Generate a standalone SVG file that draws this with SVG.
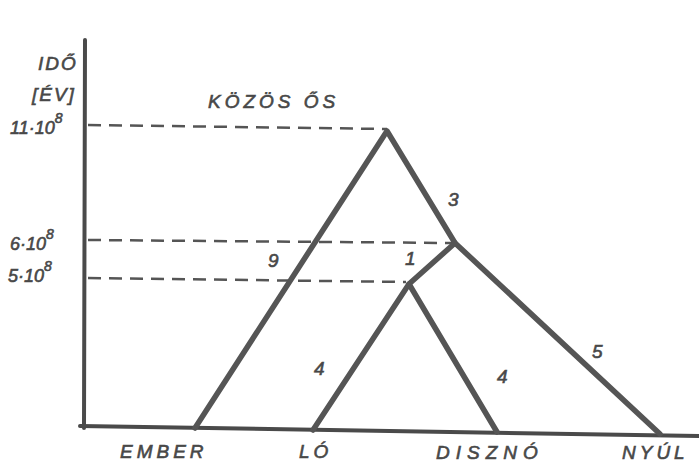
<svg xmlns="http://www.w3.org/2000/svg" width="699" height="467" viewBox="0 0 699 467">
<style>
.t{font-family:"Liberation Sans",Arial,sans-serif;fill:#484848;font-style:italic;stroke:#484848;stroke-width:0.6}
.ax{stroke:#4a4a4a;stroke-width:4;fill:none;stroke-linecap:round}
.br{stroke:#555;stroke-width:5.5;fill:none;stroke-linecap:round;stroke-linejoin:round}
.da{stroke:#555;stroke-width:2.5;stroke-dasharray:13,8;fill:none}
</style>
<rect width="699" height="467" fill="#fff"/>
<g id="axes">
<path class="ax" d="M85,40 L84,428"/>
<path class="ax" d="M80,426 L699,436"/>
</g>
<g id="axis-labels">
<text class="t" x="38" y="70" font-size="19" letter-spacing="2">IDŐ</text>
<text class="t" x="32" y="101" font-size="19" letter-spacing="2">[ÉV]</text>
<text class="t" x="10" y="134" font-size="18">11·10<tspan dy="-11" font-size="14">8</tspan></text>
<text class="t" x="10" y="250" font-size="18">6·10<tspan dy="-11" font-size="14">8</tspan></text>
<text class="t" x="8" y="282" font-size="18">5·10<tspan dy="-11" font-size="14">8</tspan></text>
</g>
<g id="connectors">
<path class="da" d="M88,125 L387,129"/>
<path class="da" d="M88,240 L452,243"/>
<path class="da" d="M88,278 L406,282"/>
<path class="br" d="M195,428 L387,131 L455,243 L660,434"/>
<path class="br" d="M455,243 L409,284 L313,430"/>
<path class="br" d="M409,284 L497,432"/>
</g>
<g id="root-label"><text class="t" x="208" y="108" font-size="19" letter-spacing="4">KÖZÖS ŐS</text></g>
<g id="branch-labels">
<text class="t" x="448" y="206" font-size="19">3</text>
<text class="t" x="268" y="267" font-size="19">9</text>
<text class="t" x="405" y="265" font-size="19">1</text>
<text class="t" x="314" y="375" font-size="19">4</text>
<text class="t" x="497" y="383" font-size="19">4</text>
<text class="t" x="592" y="358" font-size="19">5</text>
</g>
<g id="leaves">
<text class="t" x="120" y="458" font-size="19" letter-spacing="4">EMBER</text>
<text class="t" x="299" y="458" font-size="19" letter-spacing="4">LÓ</text>
<text class="t" x="436" y="459" font-size="19" letter-spacing="6">DISZNÓ</text>
<text class="t" x="622" y="459" font-size="19" letter-spacing="4">NYÚL</text>
</g>
</svg>
